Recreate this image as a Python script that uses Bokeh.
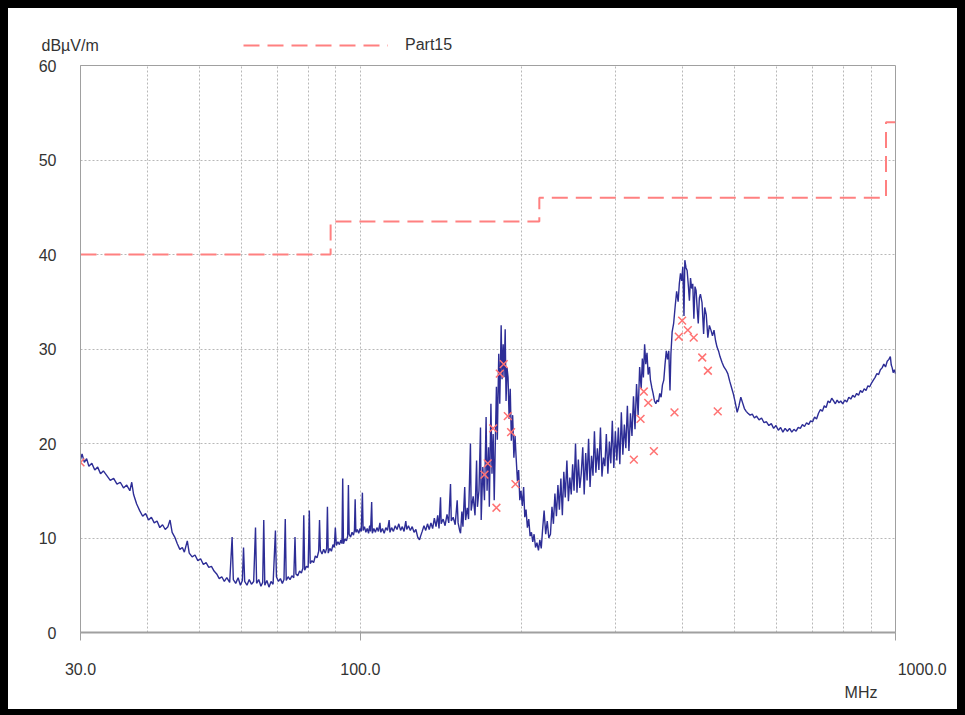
from bokeh.plotting import figure
from bokeh.layouts import column
from bokeh.models import (FixedTicker, Legend, LegendItem, Range1d, Title, Label)
from bokeh.embed import file_html
from bokeh.resources import INLINE

# ---------------- data ----------------
spectrum_freq = [
    30.0, 30.2, 30.5, 30.8, 31.1, 31.5, 31.9, 32.3,
    32.7, 33.1, 33.6, 34.1, 34.6, 35.1, 35.6, 36.1,
    36.6, 37.1, 37.4, 37.7, 38.2, 38.7, 39.2, 39.7,
    40.2, 40.7, 41.2, 41.7, 42.2, 42.7, 43.2, 43.7,
    44.1, 44.5, 45.0, 45.5, 46.0, 46.5, 46.9, 47.5,
    47.9, 48.5, 49.1, 49.7, 50.3, 50.9, 51.5, 52.1,
    52.7, 53.3, 53.9, 54.5, 55.1, 55.7, 56.3, 57.0,
    57.6, 57.9, 58.5, 59.1, 59.7, 60.2, 60.5, 60.8,
    61.4, 62.0, 62.6, 63.2, 63.7, 64.0, 64.6, 65.2,
    65.7, 66.0, 66.3, 66.9, 67.5, 68.1, 68.7, 69.4,
    69.7, 70.3, 70.9, 71.5, 72.0, 72.4, 72.7, 73.3,
    73.9, 74.5, 75.1, 75.5, 75.8, 76.4, 77.0, 77.6,
    78.1, 78.4, 78.7, 79.3, 79.9, 80.3, 80.6, 81.2,
    81.8, 82.4, 83.0, 83.6, 83.9, 84.2, 84.8, 85.4,
    86.0, 86.5, 86.8, 87.1, 87.7, 88.3, 88.9, 89.4,
    89.8, 90.2, 90.8, 91.4, 92.0, 92.4, 92.7, 93.0,
    93.6, 94.2, 94.7, 95.0, 95.3, 95.9, 96.5, 97.1,
    97.5, 97.8, 98.1, 98.7, 99.3, 99.9, 100.4, 100.9,
    101.2, 101.8, 102.4, 103.0, 103.6, 104.1, 104.5, 105.0,
    105.3, 106.0, 106.7, 107.4, 108.1, 108.8, 109.2, 110.0,
    110.8, 111.6, 112.4, 113.2, 113.6, 114.4, 115.3, 116.2,
    117.1, 118.0, 118.9, 119.8, 120.7, 121.6, 122.1, 123.0,
    124.0, 125.0, 126.0, 127.0, 128.0, 129.0, 129.6, 130.5,
    131.5, 132.5, 133.5, 134.5, 135.5, 136.5, 137.5, 138.5,
    139.5, 140.3, 141.2, 141.6, 142.8, 144.0, 145.2, 146.3,
    147.4, 147.9, 149.1, 150.4, 151.7, 152.3, 153.3, 153.9,
    154.8, 155.5, 156.7, 157.3, 158.4, 159.3, 160.6, 161.1,
    162.5, 163.8, 164.9, 165.5, 166.6, 167.7, 168.2, 169.4,
    170.6, 171.8, 172.5, 173.6, 174.2, 175.4, 176.2, 177.1,
    177.9, 178.8, 179.6, 180.3, 181.4, 182.2, 183.3, 184.0,
    184.9, 185.6, 186.5, 187.2, 188.0, 188.8, 189.7, 190.6,
    191.5, 192.6, 193.6, 194.6, 195.5, 196.6, 197.6, 198.6,
    199.6, 200.8, 201.9, 202.9, 204.0, 205.2, 206.4, 207.6,
    208.8, 210.0, 211.2, 212.5, 213.8, 215.2, 216.5, 217.8,
    219.0, 220.5, 222.0, 223.5, 225.0, 226.6, 228.1, 229.5,
    231.0, 232.5, 234.0, 235.5, 237.0, 238.5, 240.0, 241.5,
    243.2, 244.8, 246.3, 247.8, 249.3, 250.8, 252.4, 254.0,
    255.5, 257.1, 258.7, 260.4, 262.0, 263.7, 265.3, 267.0,
    268.7, 270.4, 272.1, 273.8, 275.5, 277.3, 279.1, 281.0,
    282.8, 284.6, 286.4, 288.2, 290.1, 292.0, 293.8, 295.7,
    297.6, 299.6, 301.5, 303.5, 305.4, 307.4, 309.4, 311.4,
    313.4, 315.5, 317.6, 319.7, 321.8, 323.9, 326.0, 328.2,
    330.4, 332.6, 334.8, 336.5, 338.0, 339.8, 341.5, 343.3,
    345.0, 347.0, 348.4, 350.5, 352.4, 354.5, 356.6, 358.6,
    360.6, 362.7, 364.8, 366.9, 369.0, 371.0, 373.0, 375.0,
    377.0, 379.0, 380.5, 382.5, 385.0, 387.5, 390.0, 392.5,
    394.5, 396.5, 398.5, 400.5, 402.5, 404.0, 406.0, 408.0,
    410.0, 412.0, 414.0, 416.0, 418.0, 420.0, 422.0, 424.0,
    426.0, 428.0, 430.0, 432.0, 435.0, 438.0, 440.0, 443.0,
    446.0, 449.0, 452.0, 455.0, 458.0, 461.0, 464.0, 467.0,
    470.0, 474.0, 478.0, 482.0, 486.0, 490.0, 494.0, 498.0,
    502.0, 506.0, 510.0, 514.0, 518.0, 522.0, 526.0, 530.0,
    535.0, 540.0, 545.0, 550.0, 556.0, 562.0, 568.0, 574.0,
    580.0, 586.0, 592.0, 598.0, 604.0, 610.0, 616.0, 622.0,
    628.0, 634.0, 640.0, 646.0, 652.0, 658.0, 664.0, 670.0,
    676.0, 682.0, 688.0, 694.0, 700.0, 706.0, 712.0, 718.0,
    724.0, 730.0, 736.0, 742.0, 748.0, 754.0, 760.0, 766.0,
    772.0, 778.0, 784.0, 790.0, 797.0, 804.0, 811.0, 818.0,
    825.0, 832.0, 839.0, 846.0, 853.0, 860.0, 867.0, 874.0,
    881.0, 888.0, 895.0, 902.0, 909.0, 916.0, 923.0, 930.0,
    937.0, 944.0, 951.0, 958.0, 965.0, 972.0, 978.0, 982.0,
    986.0, 990.0, 995.0, 1000.0,
]
spectrum_level = [
    18.3, 18.9, 18.0, 18.4, 17.6, 17.9, 17.2, 17.5,
    16.8, 17.1, 16.6, 16.1, 16.3, 15.7, 15.9, 15.3,
    15.6, 15.0, 15.9, 14.6, 13.6, 12.9, 12.3, 12.6,
    11.9, 12.2, 11.6, 11.8, 11.1, 11.4, 10.9, 11.2,
    11.9, 10.6, 10.1, 9.4, 8.8, 9.0, 8.5, 9.7,
    8.4, 8.0, 8.2, 7.6, 7.8, 7.2, 7.4, 6.9,
    7.0, 6.5, 6.2, 5.7, 5.9, 5.4, 5.8, 5.3,
    10.1, 5.6, 5.2, 5.8, 5.0, 5.5, 9.0, 5.4,
    5.0, 5.6, 5.1, 5.4, 11.1, 5.2, 5.6, 4.9,
    5.3, 11.9, 5.0, 5.5, 4.8, 5.4, 5.1, 10.8,
    5.9, 5.4, 5.7, 5.2, 5.6, 12.0, 5.5, 5.9,
    5.6, 6.0, 5.8, 10.1, 6.2, 6.0, 6.5, 6.3,
    6.8, 12.4, 6.6, 7.0, 6.9, 12.9, 7.3, 7.6,
    7.4, 8.1, 7.9, 8.6, 11.9, 8.7, 8.3, 8.8,
    8.4, 8.9, 13.3, 8.4, 8.9, 8.6, 9.3, 9.0,
    11.1, 9.2, 9.6, 9.3, 9.8, 9.4, 16.3, 9.4,
    9.9, 9.7, 10.2, 15.6, 10.4, 10.1, 10.6, 10.3,
    10.8, 14.1, 10.6, 10.9, 10.5, 11.0, 10.7, 14.8,
    10.8, 11.2, 10.6, 11.0, 10.5, 11.3, 10.7, 13.8,
    10.5, 11.0, 10.6, 11.1, 10.7, 11.6, 10.6, 11.0,
    10.5, 11.1, 10.8, 11.9, 10.6, 11.1, 10.7, 11.3,
    10.9, 11.5, 10.8, 11.2, 10.7, 11.8, 10.9, 11.3,
    10.8, 11.2, 10.6, 10.9, 10.1, 9.8, 10.2, 10.7,
    11.3, 10.8, 11.5, 10.9, 11.6, 11.0, 12.1, 11.2,
    12.4, 11.0, 14.3, 11.5, 12.0, 11.3, 12.5, 11.6,
    15.7, 11.8, 12.2, 11.4, 14.0, 11.6, 10.8, 10.5,
    12.8, 11.2, 15.4, 11.9, 13.2, 12.0, 20.0, 12.9,
    14.4, 12.4, 18.2, 13.3, 15.0, 21.7, 11.9, 17.5,
    14.0, 22.8, 15.0, 19.6, 13.3, 24.2, 16.8, 21.0,
    14.0, 20.5, 26.0, 20.4, 29.5, 24.2, 32.5, 26.8,
    30.5, 27.0, 32.1, 24.5, 28.0, 27.0, 22.6, 25.8,
    20.3, 23.0, 18.5, 20.8, 18.5, 16.0, 17.2, 14.0,
    15.0, 13.4, 15.4, 12.2, 13.0, 11.1, 12.0, 10.2,
    10.6, 9.6, 10.4, 9.0, 9.5, 8.7, 9.8, 8.9,
    10.8, 12.9, 10.4, 11.8, 10.0, 10.4, 13.3, 11.5,
    14.7, 12.3, 15.6, 13.0, 16.3, 12.4, 17.0, 14.3,
    18.2, 13.9, 16.4, 14.6, 17.8, 15.0, 20.0, 14.8,
    18.3, 15.3, 16.8, 19.6, 14.6, 19.0, 16.1, 20.5,
    15.4, 18.7, 16.6, 21.3, 16.9, 19.5, 17.2, 21.7,
    16.5, 18.5, 17.6, 21.0, 16.8, 20.2, 17.9, 22.4,
    17.4, 21.3, 18.2, 21.7, 17.8, 23.3, 18.8, 22.0,
    19.5, 24.0, 19.2, 23.2, 20.8, 25.0, 21.5, 26.3,
    23.0, 28.1, 25.8, 29.0, 27.0, 30.5, 28.4, 29.6,
    27.3, 28.1, 26.7, 25.9, 25.3, 24.5, 24.2, 24.6,
    24.4, 25.3, 24.9, 26.2, 26.7, 28.4, 29.8, 28.9,
    29.8, 25.6, 29.5, 31.8, 32.7, 34.5, 36.1, 35.0,
    36.9, 38.0, 37.2, 38.7, 33.5, 39.4, 38.6, 38.3,
    36.8, 35.1, 37.5, 36.4, 36.9, 33.2, 36.6, 36.2,
    34.3, 32.7, 35.4, 35.8, 34.9, 31.6, 34.4, 33.6,
    31.2, 32.5, 32.0, 31.4, 32.0, 30.9, 30.2, 29.8,
    29.2, 28.6, 28.1, 27.8, 27.4, 26.6, 25.9, 25.2,
    24.3, 23.3, 24.0, 24.9, 24.3, 23.7, 23.4, 23.2,
    23.0, 23.1, 22.7, 22.9, 22.5, 22.7, 22.2, 22.3,
    21.9, 22.1, 21.6, 21.9, 21.4, 21.7, 21.2, 21.6,
    21.3, 21.6, 21.2, 21.5, 21.3, 21.7, 21.6, 22.0,
    21.8, 22.2, 22.0, 22.4, 22.3, 22.8, 22.6, 23.2,
    23.6, 23.4, 24.0, 23.8, 24.5, 24.3, 24.8, 24.5,
    24.2, 24.6, 24.3, 24.5, 24.2, 24.6, 24.4, 24.9,
    24.7, 25.1, 24.9, 25.3, 25.1, 25.6, 25.4, 25.8,
    25.6, 26.1, 26.0, 26.4, 26.7, 27.0, 27.4, 27.3,
    27.8, 28.0, 28.4, 28.1, 28.7, 28.9, 29.2, 28.3,
    28.0, 27.5, 27.8, 27.4,
]

qp_freq = [30.0, 170.6, 173.0, 177.1, 179.6, 182.2, 185.3, 188.6, 191.3,
           194.9, 324.4, 333.9, 338.6, 345.1, 353.6, 386.4, 393.6, 399.3,
           409.2, 419.7, 435.4, 446.1, 465.4]
qp_level = [18.0, 16.7, 17.9, 21.6, 13.2, 27.4, 28.4, 22.9, 21.2,
            15.7, 18.3, 22.6, 25.5, 24.3, 19.2, 23.3, 31.3, 33.0,
            32.0, 31.2, 29.1, 27.7, 23.4]

limit_freq = [30, 88, 88, 216, 216, 960, 960, 1000]
limit_level = [40, 40, 43.5, 43.5, 46, 46, 54, 54]
limit_name = "Part15"

x_ticks = [30, 100, 1000]
x_tick_labels = ["30.0", "100.0", "1000.0"]
x_grid = [40, 50, 60, 70, 80, 90, 100, 200, 300, 400, 500, 600, 700, 800, 900]
y_ticks = [0, 10, 20, 30, 40, 50, 60]
y_unit = "dBµV/m"
x_unit = "MHz"

FONT = "Liberation Sans"
TXT = "#333333"
AX = "#a0a0a0"
NBSP = "\u00a0"
LIMIT_STYLE = dict(line_color="#ff8080", line_width=2, line_dash="16 8")

W = 965
TOP_H = 58
MAIN_H = 715 - TOP_H

# ---------------- header strip (unit caption + legend) ----------------
top = figure(width=W, height=TOP_H, x_range=Range1d(0, W),
             y_range=Range1d(0, TOP_H), output_backend="svg",
             toolbar_location=None, x_axis_location=None,
             y_axis_location=None, min_border=0, min_border_left=0,
             min_border_right=0, min_border_top=0, min_border_bottom=0)
top.grid.visible = False
top.outline_line_color = None
top.background_fill_alpha = 0
top.border_fill_alpha = 0
# legend key for the limit line (its own data lies outside this strip's view)
limit_key = top.line(limit_freq[:2], [-100, -100], **LIMIT_STYLE)
top.add_layout(Legend(items=[LegendItem(label=limit_name, renderers=[limit_key])],
                      location=(243, 3), orientation="horizontal",
                      glyph_width=145, glyph_height=20, label_height=20,
                      label_standoff=17, padding=0, margin=0, spacing=0,
                      border_line_color=None, background_fill_alpha=0,
                      label_text_font=FONT, label_text_font_size="16px",
                      label_text_color=TXT))
top.add_layout(Label(x=41, y=13, x_units="screen", y_units="screen",
                     text=y_unit, text_align="left",
                     text_baseline="middle", text_font=FONT,
                     text_font_size="16px", text_color=TXT))

# ---------------- main chart ----------------
p = figure(width=W, height=MAIN_H, x_axis_type="log",
           x_range=Range1d(30, 1000), y_range=Range1d(0, 60),
           output_backend="svg", toolbar_location=None,
           min_border_left=80, min_border_right=70,
           min_border_top=7, min_border_bottom=83)
p.border_fill_alpha = 0
p.background_fill_color = "white"
p.outline_line_color = AX
p.outline_line_width = 1

for fig in (top, p):
    if "frame_align" in fig.properties():
        fig.frame_align = False

overrides = {}
for tv, tl in zip(x_ticks, x_tick_labels):
    overrides[tv] = tl if tv != x_ticks[-1] else NBSP * 12 + tl
p.xaxis.ticker = FixedTicker(ticks=x_ticks, minor_ticks=[])
p.xaxis.major_label_overrides = overrides
p.xaxis.major_label_standoff = 20
p.xaxis.major_label_text_font = FONT
p.xaxis.major_label_text_font_size = "16px"
p.xaxis.major_label_text_color = TXT
p.xaxis.axis_line_color = AX
p.xaxis.axis_line_width = 2
p.xaxis.major_tick_line_color = AX
p.xaxis.major_tick_out = 8
p.xaxis.major_tick_in = 0
p.xaxis.minor_tick_line_color = None

p.yaxis.ticker = FixedTicker(ticks=y_ticks, minor_ticks=[])
p.yaxis.axis_line_color = AX
p.yaxis.major_tick_line_color = None
p.yaxis.minor_tick_line_color = None
p.yaxis.major_label_standoff = 18
p.yaxis.major_label_text_font = FONT
p.yaxis.major_label_text_font_size = "16px"
p.yaxis.major_label_text_color = TXT

p.xgrid[0].ticker = FixedTicker(ticks=x_grid, minor_ticks=[])
p.xgrid.grid_line_color = "#b8b8b8"
p.xgrid.grid_line_dash = "2 2"
p.ygrid.grid_line_color = "#b8b8b8"
p.ygrid.grid_line_dash = "2 2"

p.line(spectrum_freq, spectrum_level, line_color="#2d2d96", line_width=1.4)
p.scatter(qp_freq, qp_level, marker="x", size=11, line_color="#ff7373",
          line_width=1.5)
p.line(limit_freq, limit_level, **LIMIT_STYLE)

p.add_layout(Title(text=x_unit, align="right", offset=18, standoff=2,
                   text_font=FONT, text_font_size="16px",
                   text_font_style="normal", text_color=TXT), "below")

page = column(top, p, spacing=0)
page.styles = {"background-color": "white",
               "box-shadow": "inset 8px 8px 0 0 black, inset -8px -6px 0 0 black"}

open("out.html", "w").write(file_html(page, INLINE))
